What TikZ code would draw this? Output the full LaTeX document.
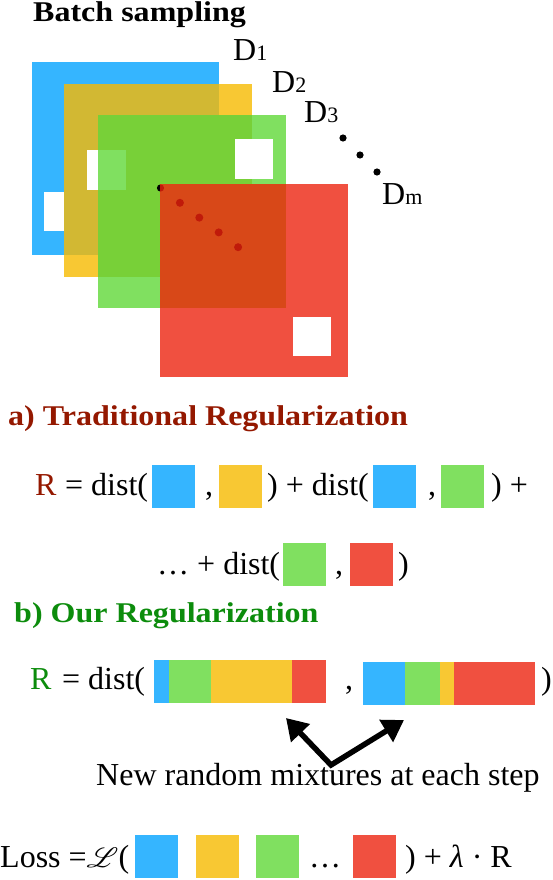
\documentclass[tikz,border=0pt]{standalone}
\usepackage{fontspec}
\usepackage{mathrsfs}
\setmainfont{Liberation Serif}
\newfontfamily\headfam{Liberation Serif}[FakeStretch=1.12]
\usetikzlibrary{arrows.meta}

\definecolor{cblue}{HTML}{35B5FF}
\definecolor{cyellow}{HTML}{F8C833}
\definecolor{cgreen}{HTML}{80E060}
\definecolor{cred}{HTML}{F05040}
\definecolor{colive}{HTML}{D2B833}
\definecolor{cdkgreen}{HTML}{78D038}
\definecolor{cdkred}{HTML}{D84818}
\definecolor{dotred}{HTML}{C01A0A}
\definecolor{headred}{HTML}{941800}
\definecolor{headgreen}{HTML}{0C8C0C}

\newcommand{\eqfont}{\fontsize{32}{36}\selectfont}
\newcommand{\headfont}{\headfam\fontsize{28.6}{32}\selectfont\bfseries}
\newcommand{\subfont}{\fontsize{22}{22}\selectfont}

\tikzset{
  txt/.style={anchor=base west, inner sep=0pt, font=\eqfont},
  head/.style={anchor=base west, inner sep=0pt, font=\headfont},
  cbox/.style={anchor=north west, inner sep=0pt, outer sep=0pt,
    minimum width=43pt, minimum height=43pt},
}

\begin{document}
\begin{tikzpicture}[x=1pt, y=-1pt]
  \useasboundingbox (0,0) rectangle (552,880);

  % batch sampling
  \node[head] (title) at (33,21.5) {Batch sampling};

  \fill[cblue] (32,62) rectangle (219,255);
  \fill[white] (44,192) rectangle (82,231);
  \fill[cyellow] (64,84) rectangle (252,277);
  \fill[colive] (64,84) rectangle (219,255);
  \fill[white] (87,150) rectangle (126,190);
  \fill[cgreen] (98,115) rectangle (286,308);
  \fill[cdkgreen] (98,115) rectangle (252,277);
  \fill[cgreen] (98,150) rectangle (126,190);
  \fill[white] (235,139) rectangle (273,179);
  \fill[black] (160.5,188) circle (3.6);
  \fill[cred] (160,184) rectangle (348,377);
  \fill[cdkred] (160,184) rectangle (286,308);
  \fill[white] (293,317) rectangle (331,356);
  \begin{scope}
    \clip (160,184) rectangle (348,377);
    \fill[dotred] (160.5,188) circle (3.6);
  \end{scope}
  \foreach \i in {1,...,4}
    \fill[dotred] (160.5+19.4*\i,188+14.8*\i) circle (4);
  \foreach \i in {0,1,2}
    \fill[black] (343+17*\i,138+17*\i) circle (3.6);

  \node[txt] (d1) at (233,61) {D{\subfont 1}};
  \node[txt] (d2) at (272,93) {D{\subfont 2}};
  \node[txt] (d3) at (304,123) {D{\subfont 3}};
  \node[txt] (dm) at (382,204) {D{\subfont m}};

  % a) traditional regularization
  \node[head, text=headred] (heada) at (8,425) {a) Traditional Regularization};

  \node[txt, text=headred] (ra) at (35,495) {R};
  \node[txt] (dista1) at (65,495) {= dist(};
  \node[cbox, fill=cblue] (a1) at (152,465) {};
  \node[txt] (ca1) at (205,495) {,};
  \node[cbox, fill=cyellow] (a2) at (219,465) {};
  \node[txt] (dista2) at (267,495) {) + dist(};
  \node[cbox, fill=cblue] (a3) at (373,465) {};
  \node[txt] (ca2) at (428,495) {,};
  \node[cbox, fill=cgreen] (a4) at (441,465) {};
  \node[txt] (enda1) at (491,495) {) +};

  \node[txt] (dista3) at (157,574) {… + dist(};
  \node[cbox, fill=cgreen] (a5) at (283,543) {};
  \node[txt] (ca3) at (335,574) {,};
  \node[cbox, fill=cred] (a6) at (350,543) {};
  \node[txt] (enda2) at (398,574) {)};

  % b) our regularization
  \node[head, text=headgreen] (headb) at (14,622) {b) Our Regularization};

  \node[txt, text=headgreen] (rb) at (30,689) {R};
  \node[txt] (distb) at (62,689) {= dist(};
  \fill[cblue] (154,660) rectangle (169,703);
  \fill[cgreen] (169,660) rectangle (211,703);
  \fill[cyellow] (211,660) rectangle (292,703);
  \fill[cred] (292,660) rectangle (326,703);
  \node[txt] (cb) at (345,689) {,};
  \fill[cblue] (363,662) rectangle (405,705);
  \fill[cgreen] (405,662) rectangle (440,705);
  \fill[cyellow] (440,662) rectangle (454,705);
  \fill[cred] (454,662) rectangle (535,705);
  \node[txt] (endb) at (541,689) {)};

  \coordinate (mixl) at (286,718);
  \coordinate (mixv) at (331,765);
  \coordinate (mixr) at (404,720);
  \draw[line width=5.5pt, {Triangle[length=21pt,width=25pt]}-{Triangle[length=21pt,width=25pt]}]
    (mixl) -- (mixv) -- (mixr);
  \node[txt] (mixtxt) at (96,785) {New random mixtures at each step};

  % loss
  \node[txt] (loss) at (0,867) {Loss =\scalebox{1.2}[1.12]{$\mathscr{L}$}(};
  \node[cbox, fill=cblue] (l1) at (134.5,835) {};
  \node[cbox, fill=cyellow] (l2) at (195.5,835) {};
  \node[cbox, fill=cgreen] (l3) at (256,835) {};
  \node[txt] (ldots) at (309,867) {…};
  \node[cbox, fill=cred] (l4) at (353,835) {};
  \node[txt] (lend) at (405,867) {) + \textit{λ} · R};
\end{tikzpicture}
\end{document}
